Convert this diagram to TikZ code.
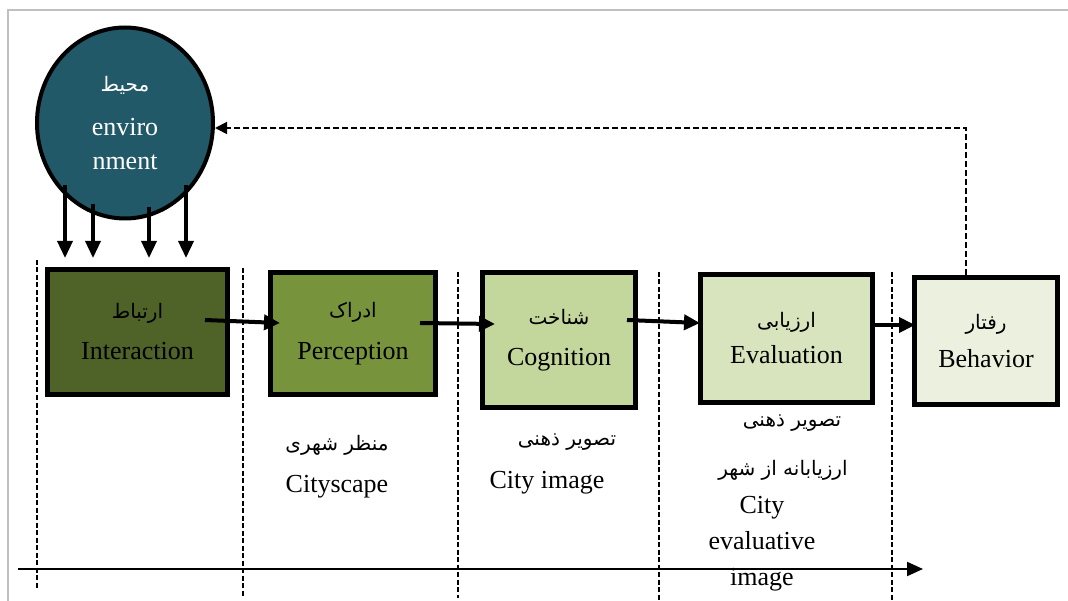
\documentclass[tikz,border=0pt]{standalone}
\usepackage{fontspec}
\setmainfont{Liberation Serif}
\newfontfamily\farsi[Script=Arabic]{DejaVu Sans}
\TeXXeTstate=1
\usetikzlibrary{arrows.meta,shapes.geometric}
\newcommand{\pers}[1]{{\farsi\fontsize{20}{23}\selectfont\beginR #1\endR}}
\definecolor{envteal}{HTML}{215968}
\definecolor{olivedark}{HTML}{4F6228}
\definecolor{olivemid}{HTML}{77933C}
\definecolor{olivelight}{HTML}{C3D69B}
\definecolor{olivepale}{HTML}{D7E4BD}
\definecolor{olivewhite}{HTML}{EBF1DE}
\definecolor{framegray}{HTML}{C0C0C0}

\begin{document}
\begin{tikzpicture}[x=1pt, y=-1pt,
    stage/.style={draw=black, line width=5pt, inner sep=0pt, align=center,
      font=\fontsize{26}{30}\selectfont},
    flow/.style={-{Triangle[length=16pt,width=15pt]}, line width=4pt},
    drop/.style={-{Triangle[length=17pt,width=15pt]}, line width=3.5pt},
    feed/.style={-{Triangle[length=12pt,width=12pt]}, line width=1.8pt,
      dash pattern=on 6pt off 3pt},
    sep/.style={line width=1.5pt, dash pattern=on 5pt off 2.5pt},
    lbl/.style={inner sep=0pt, align=center, font=\fontsize{26}{36}\selectfont}]
  \useasboundingbox (0,0) rectangle (1068,601);
  \draw[framegray, line width=2pt] (1068,10) -- (8,10) -- (8,601);

  % --- columns and time axis ---
  \draw[sep] (37,260) -- (37,588);
  \draw[sep] (243,268) -- (243,597);
  \draw[sep] (458,272) -- (458,598);
  \draw[sep] (659,272) -- (659,601);
  \draw[sep] (892,272) -- (892,601);
  \coordinate (axisL) at (18,569);
  \coordinate (axisR) at (923,569);
  \draw[line width=2pt, -{Triangle[length=16pt,width=14pt]}] (axisL) -- (axisR);

  % --- environment ---
  \node[ellipse, draw=black, line width=4pt, fill=envteal, text=white,
    minimum width=176pt, minimum height=191pt, inner sep=0pt, align=center,
    font=\fontsize{26}{34}\selectfont] (env) at (125,123)
    {\pers{محیط}\\[10pt] enviro\\ nment};

  % --- stages ---
  \node[stage, fill=olivedark, minimum width=180pt, minimum height=125pt] (inter) at (137.5,332)
    {\pers{ارتباط}\\[11pt] Interaction};
  \node[stage, fill=olivemid, minimum width=165pt, minimum height=122pt] (perc) at (353,333.5)
    {\pers{ادراک}\\[12pt] Perception};
  \node[stage, fill=olivelight, minimum width=153pt, minimum height=135pt] (cogn) at (559,340)
    {\pers{شناخت}\\[11pt] Cognition};
  \node[stage, fill=olivepale, minimum width=172pt, minimum height=128pt] (eval) at (786.5,338.5)
    {\pers{ارزیابی}\\[6pt] Evaluation};
  \node[stage, fill=olivewhite, minimum width=143pt, minimum height=127pt] (behav) at (986,341)
    {\pers{رفتار}\\[8pt] Behavior};

  % --- environment acts on interaction ---
  \draw[drop] ([xshift=-60pt,yshift=-62pt]env.center) -- ([xshift=-72.5pt,yshift=9pt]inter.north);
  \draw[drop] ([xshift=-32pt,yshift=-81pt]env.center) -- ([xshift=-44.5pt,yshift=9pt]inter.north);
  \draw[drop] ([xshift=24pt,yshift=-84pt]env.center) -- ([xshift=11.5pt,yshift=9pt]inter.north);
  \draw[drop] ([xshift=61pt,yshift=-62pt]env.center) -- ([xshift=48.5pt,yshift=9pt]inter.north);

  % --- process chain ---
  \draw[flow] ([xshift=-25pt,yshift=12pt]inter.east) -- ([xshift=12pt,yshift=10.5pt]perc.west);
  \draw[flow] ([xshift=-18pt,yshift=10.5pt]perc.east) -- ([xshift=15pt,yshift=16pt]cogn.west);
  \draw[flow] ([xshift=-11pt,yshift=20pt]cogn.east) -- ([xshift=2pt,yshift=15.5pt]eval.west);
  \draw[flow] ([xshift=-2pt,yshift=13.5pt]eval.east) -- ([xshift=3pt,yshift=16pt]behav.west);

  % --- feedback to environment ---
  \draw[feed] ([xshift=-20pt]behav.north) |- ([yshift=-5pt]env.east);

  % --- products of each stage ---
  \node[lbl] (scapeFa) at (337,445) {\pers{منظر شهری}};
  \node[lbl] (scapeEn) at (337,487) {Cityscape};
  \node[lbl] (imgFa) at (567,442) {\pers{تصویر ذهنی}};
  \node[lbl] (imgEn) at (547,483) {City image};
  \node[lbl] (evalFa) at (792,423) {\pers{تصویر ذهنی}};
  \node[lbl] (evalFb) at (783,470) {\pers{ارزیابانه از شهر}};
  \node[lbl] (evalEn) at (762,544) {City\\evaluative\\image};
\end{tikzpicture}
\end{document}
